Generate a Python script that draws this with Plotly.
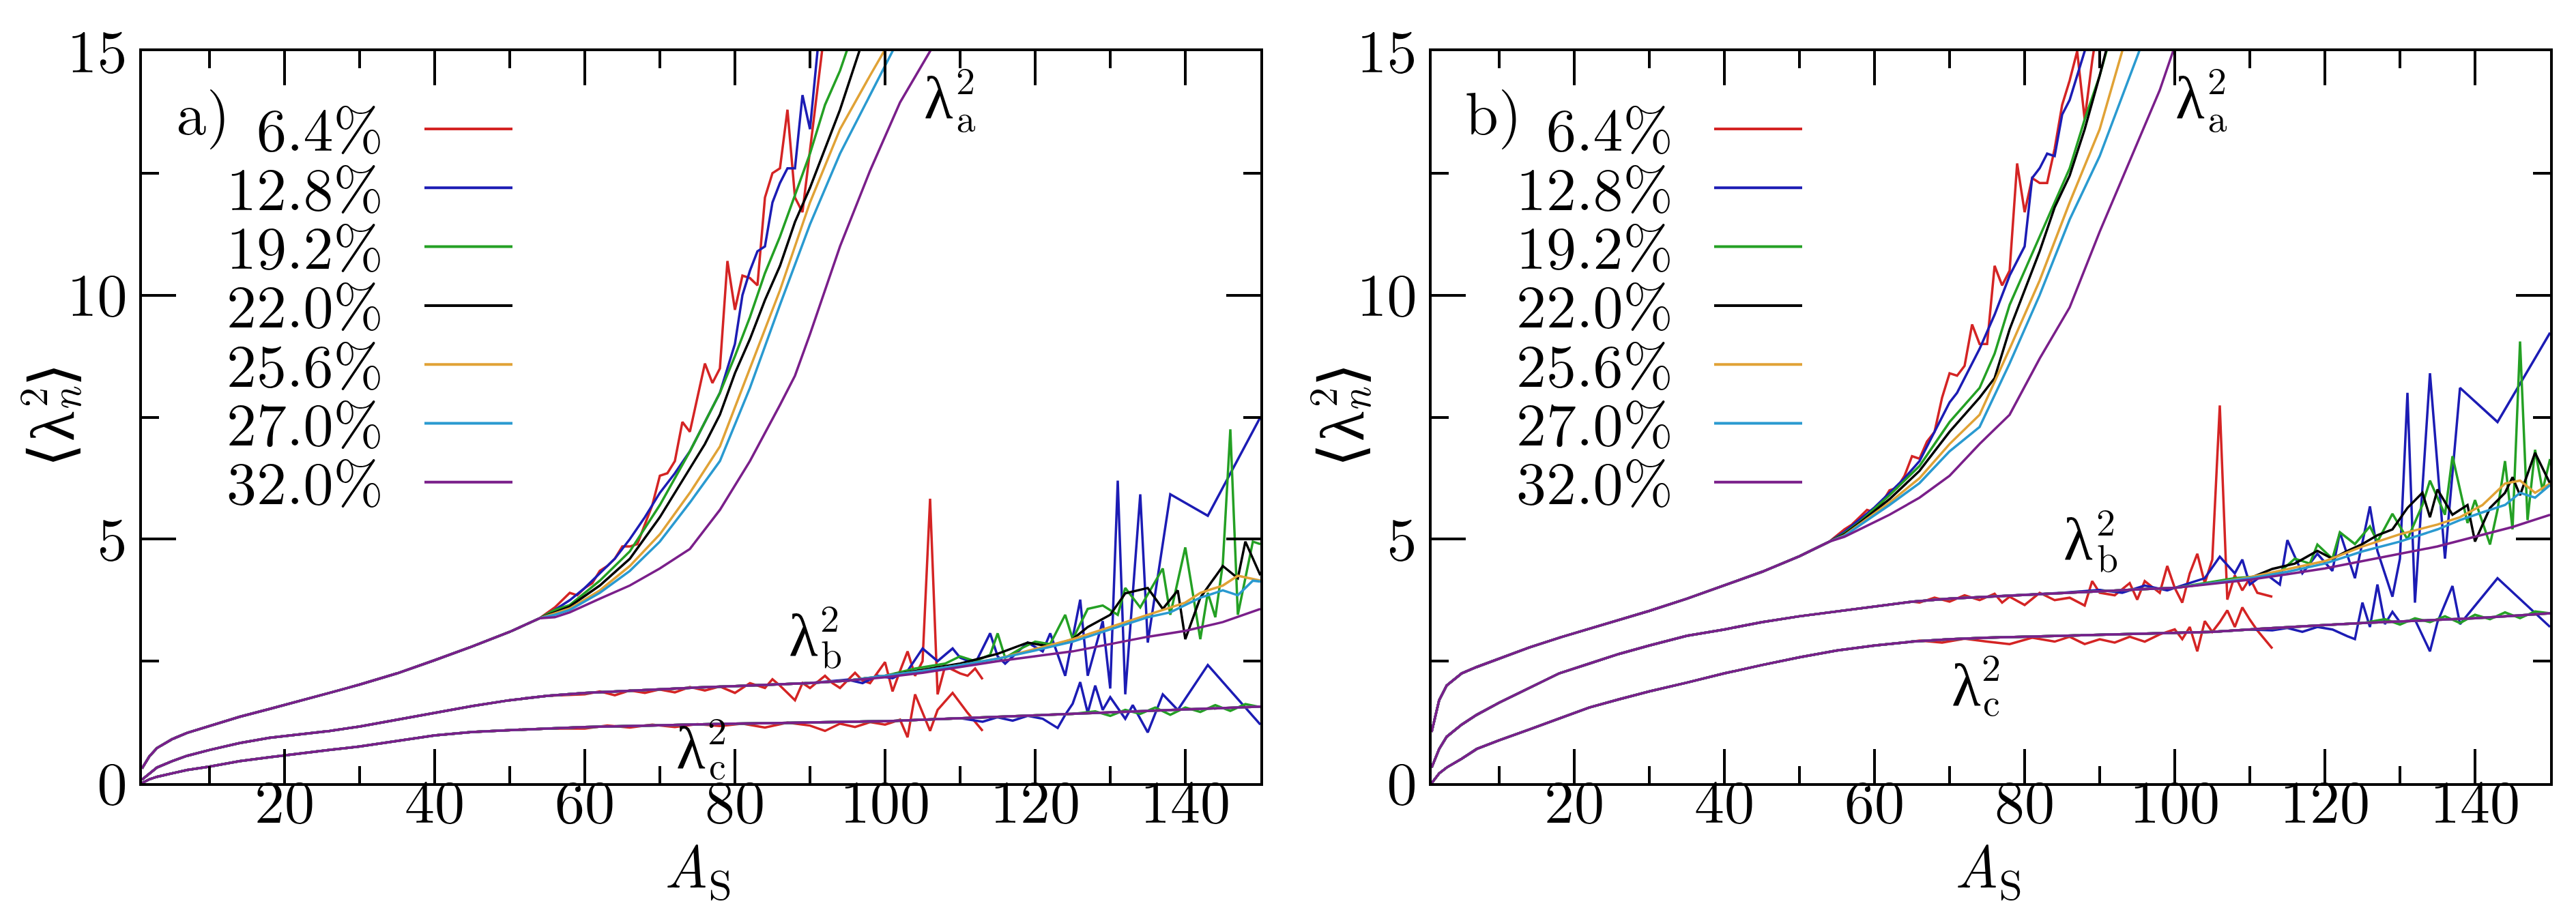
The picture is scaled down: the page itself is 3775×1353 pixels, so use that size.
import plotly.graph_objects as go

W, H = 3775, 1353
SERIF = "Latin Modern Roman"

LABELS = ["6.4%", "12.8%", "19.2%", "22.0%", "25.6%", "27.0%", "32.0%"]
COLORS = ["#d42424", "#1c1cb4", "#24a024", "#000000", "#e0a236", "#2a9ad0", "#7a1f8a"]
KEYS = ["red", "blue", "green", "black", "orange", "cyan", "purple"]

X_TICKS = [20, 40, 60, 80, 100, 120, 140]
X_MINOR = [10, 30, 50, 70, 90, 110, 130]
Y_TICKS = [0, 5, 10, 15]
Y_MINOR = [2.5, 7.5, 12.5]

# ---------------- panel a : lambda_a ----------------
A_X_BASE_LA = [1, 2, 3, 5, 7, 10, 14, 18, 22, 26, 30, 35, 40, 45, 50, 54]
A_Y_BASE_LA = [0.3, 0.55, 0.72, 0.9, 1.03, 1.17, 1.36, 1.52, 1.68, 1.85, 2.02, 2.25, 2.52, 2.8, 3.1, 3.38]
A_X_LA_RED = [56, 57, 58, 59, 60, 61, 62, 63, 64, 65, 66, 67, 68, 69, 70, 71, 72, 73, 74, 75, 76, 77, 78, 79, 80, 81, 82, 83, 84, 85, 86, 87, 88, 89, 90, 91, 92, 93]
A_Y_LA_RED = [3.6, 3.75, 3.9, 3.85, 4.0, 4.1, 4.35, 4.45, 4.6, 4.85, 4.85, 4.9, 5.3, 5.7, 6.3, 6.35, 6.6, 7.4, 7.2, 7.9, 8.6, 8.2, 8.5, 10.7, 9.7, 10.4, 10.35, 10.2, 12.0, 12.5, 12.6, 13.8, 12.0, 11.7, 13.0, 14.2, 15.5, 16.5]
A_X_LA_BLUE = [56, 58, 60, 62, 64, 66, 68, 70, 72, 74, 76, 78, 79, 80, 81, 82, 83, 84, 85, 86, 87, 88, 89, 90, 91, 92]
A_Y_LA_BLUE = [3.55, 3.75, 4.0, 4.3, 4.6, 5.0, 5.45, 5.95, 6.35, 6.8, 7.4, 8.0, 8.5, 9.0, 10.0, 10.5, 10.9, 11.0, 11.9, 12.3, 12.6, 12.6, 14.1, 13.4, 15.0, 15.8]
A_X_LA_GREEN = [56, 58, 62, 66, 70, 74, 78, 80, 82, 84, 86, 88, 90, 92, 94, 96]
A_Y_LA_GREEN = [3.55, 3.65, 4.15, 4.75, 5.7, 6.8, 8.0, 8.75, 9.55, 10.45, 11.2, 12.05, 12.9, 13.9, 14.6, 15.5]
A_X_LA_BLACK = [56, 58, 62, 66, 70, 74, 76, 78, 80, 82, 84, 86, 88, 90, 92, 94, 97]
A_Y_LA_BLACK = [3.5, 3.62, 4.05, 4.6, 5.45, 6.45, 6.95, 7.55, 8.4, 9.1, 9.9, 10.6, 11.5, 12.2, 13.0, 13.8, 15.2]
A_X_LA_ORANGE = [56, 58, 62, 66, 70, 74, 78, 82, 86, 90, 94, 98, 101]
A_Y_LA_ORANGE = [3.48, 3.58, 3.95, 4.45, 5.1, 5.95, 6.9, 8.5, 10.1, 11.9, 13.4, 14.5, 15.3]
A_X_LA_CYAN = [56, 58, 62, 66, 70, 74, 78, 82, 86, 90, 94, 98, 102]
A_Y_LA_CYAN = [3.45, 3.55, 3.9, 4.35, 4.95, 5.75, 6.6, 8.1, 9.8, 11.45, 12.9, 14.1, 15.3]
A_X_LA_PURPLE = [56, 58, 62, 66, 70, 74, 78, 82, 86, 88, 90, 94, 98, 102, 106, 109]
A_Y_LA_PURPLE = [3.4, 3.5, 3.78, 4.05, 4.4, 4.8, 5.6, 6.6, 7.75, 8.35, 9.2, 11.0, 12.55, 13.95, 15.0, 15.8]

# ---------------- panel a : lambda_b ----------------
A_X_BASE_LB = [1, 2, 3, 5, 7, 10, 14, 18, 22, 26, 30, 35, 40, 45, 50, 55, 60, 65, 70, 75, 80, 85, 90, 95, 100, 105, 110, 115, 120, 125, 130, 135, 140, 145, 150]
A_Y_BASE_LB = [0.07, 0.2, 0.32, 0.45, 0.56, 0.68, 0.82, 0.93, 1.0, 1.07, 1.16, 1.3, 1.45, 1.58, 1.7, 1.79, 1.85, 1.89, 1.93, 1.96, 1.99, 2.02, 2.05, 2.1, 2.17, 2.26, 2.38, 2.5, 2.6, 2.7, 2.85, 3.0, 3.12, 3.3, 3.57]
A_X_LB_RED = [60, 62, 64, 66, 68, 70, 72, 74, 76, 78, 80, 82, 84, 85, 86, 88, 89, 90, 92, 93, 94, 96, 97, 98, 100, 101, 102, 103, 104, 105, 106, 107, 108, 110, 111, 112, 113]
A_Y_LB_RED = [1.82, 1.88, 1.8, 1.9, 1.85, 1.92, 1.86, 1.97, 1.9, 1.98, 1.85, 2.05, 1.95, 2.13, 2.0, 1.7, 2.05, 1.95, 2.2, 2.05, 1.95, 2.26, 2.1, 2.05, 2.48, 1.88, 2.3, 2.7, 2.2, 2.5, 5.83, 1.82, 2.4, 2.25, 2.2, 2.35, 2.13]
A_X_LB_BLUE = [95, 97, 99, 101, 103, 105, 107, 109, 110, 112, 114, 115, 116, 119, 121, 122, 124, 126, 127, 129, 130, 131, 132, 134, 135, 138, 143, 150]
A_Y_LB_BLUE = [2.12, 2.05, 2.2, 2.15, 2.3, 2.76, 2.5, 2.76, 2.57, 2.45, 3.07, 2.6, 2.45, 2.88, 2.7, 3.07, 2.2, 3.76, 2.2, 3.32, 1.94, 6.2, 1.82, 5.92, 2.88, 5.92, 5.48, 7.5]
A_X_LB_GREEN = [100, 104, 108, 110, 112, 114, 115, 116, 118, 120, 122, 124, 125, 127, 129, 131, 132, 134, 137, 138, 140, 142, 143, 144, 145, 146, 147, 149, 150]
A_Y_LB_GREEN = [2.2, 2.35, 2.45, 2.6, 2.5, 2.63, 3.07, 2.57, 2.75, 2.9, 2.85, 3.45, 2.95, 3.57, 3.64, 3.45, 4.0, 3.6, 4.4, 3.45, 4.83, 2.95, 3.9, 3.4, 4.5, 7.25, 3.45, 4.95, 4.9]
A_X_LB_BLACK = [100, 105, 110, 115, 119, 122, 125, 127, 130, 132, 135, 137, 139, 140, 142, 145, 147, 148, 150]
A_Y_LB_BLACK = [2.2, 2.32, 2.45, 2.65, 2.88, 2.8, 2.95, 3.2, 3.45, 3.89, 4.0, 3.57, 3.95, 2.95, 3.8, 4.45, 4.2, 4.95, 4.26]
A_X_LB_ORANGE = [100, 105, 110, 115, 120, 125, 130, 135, 138, 140, 142, 145, 147, 150]
A_Y_LB_ORANGE = [2.2, 2.3, 2.42, 2.55, 2.75, 2.95, 3.2, 3.45, 3.6, 3.7, 3.9, 4.05, 4.25, 4.15]
A_X_LB_CYAN = [100, 105, 110, 115, 120, 125, 130, 135, 138, 140, 142, 145, 147, 149, 150]
A_Y_LB_CYAN = [2.2, 2.3, 2.42, 2.55, 2.72, 2.9, 3.15, 3.4, 3.5, 3.65, 3.8, 3.95, 3.85, 4.15, 4.13]

# ---------------- panel a : lambda_c ----------------
A_X_BASE_LC = [1, 2, 3, 5, 7, 10, 14, 18, 22, 26, 30, 35, 40, 45, 50, 55, 60, 65, 70, 75, 80, 85, 90, 95, 100, 105, 110, 115, 120, 125, 130, 135, 140, 145, 150]
A_Y_BASE_LC = [0.0, 0.08, 0.13, 0.2, 0.27, 0.34, 0.45, 0.53, 0.61, 0.68, 0.75, 0.87, 0.98, 1.05, 1.09, 1.12, 1.15, 1.17, 1.19, 1.2, 1.22, 1.23, 1.24, 1.25, 1.27, 1.3, 1.33, 1.36, 1.39, 1.42, 1.45, 1.48, 1.51, 1.54, 1.57]
A_X_LC_RED = [60, 63, 66, 69, 72, 75, 78, 81, 84, 87, 90, 92, 94, 96, 98, 100, 102, 103, 104, 106, 107, 109, 111, 113]
A_Y_LC_RED = [1.12, 1.18, 1.14, 1.2, 1.15, 1.21, 1.17, 1.22, 1.14, 1.24, 1.18, 1.07, 1.22, 1.15, 1.25, 1.2, 1.3, 0.94, 1.82, 1.07, 1.5, 1.85, 1.44, 1.07]
A_X_LC_BLUE = [113, 115, 117, 119, 121, 123, 124, 125, 126, 127, 128, 129, 130, 132, 133, 135, 137, 139, 143, 150]
A_Y_LC_BLUE = [1.26, 1.35, 1.28, 1.38, 1.32, 1.13, 1.4, 1.63, 2.07, 1.44, 2.0, 1.5, 1.76, 1.32, 1.6, 1.04, 1.82, 1.5, 2.42, 1.2]
A_X_LC_GREEN = [125, 128, 130, 132, 134, 136, 138, 140, 142, 144, 146, 148, 150]
A_Y_LC_GREEN = [1.42, 1.47, 1.38, 1.5, 1.42, 1.55, 1.4, 1.55, 1.46, 1.6, 1.48, 1.62, 1.56]

# ---------------- panel b : lambda_a ----------------
B_X_BASE_LA = [1, 2, 3, 5, 7, 10, 14, 18, 22, 26, 30, 35, 40, 45, 50, 54]
B_Y_BASE_LA = [1.05, 1.7, 2.0, 2.25, 2.38, 2.55, 2.78, 2.98, 3.16, 3.35, 3.53, 3.78, 4.05, 4.33, 4.65, 4.95]
B_X_LA_RED = [56, 57, 58, 59, 60, 61, 62, 63, 64, 65, 66, 67, 68, 69, 70, 71, 72, 73, 74, 75, 76, 77, 78, 79, 80, 81, 82, 83, 84, 85, 86, 87, 88, 89, 90]
B_Y_LA_RED = [5.2, 5.3, 5.45, 5.6, 5.55, 5.75, 6.0, 6.05, 6.3, 6.7, 6.65, 7.0, 7.2, 7.9, 8.4, 8.35, 8.55, 9.4, 9.0, 9.0, 10.6, 10.2, 10.5, 12.7, 11.7, 12.4, 12.3, 12.3, 13.0, 13.9, 14.4, 15.0, 13.6, 14.8, 15.8]
B_X_LA_BLUE = [56, 58, 60, 62, 64, 66, 68, 70, 71, 72, 74, 76, 78, 80, 81, 82, 83, 84, 85, 86, 87, 88, 89]
B_Y_LA_BLUE = [5.15, 5.4, 5.65, 5.95, 6.25, 6.6, 7.2, 7.8, 8.0, 8.3, 8.9, 9.6, 10.4, 11.0, 12.4, 12.6, 12.9, 12.85, 13.7, 14.0, 14.5, 15.0, 15.6]
B_X_LA_GREEN = [56, 58, 62, 66, 70, 74, 76, 78, 80, 82, 84, 86, 88, 90, 92]
B_Y_LA_GREEN = [5.12, 5.35, 5.9, 6.5, 7.4, 8.1, 8.8, 9.8, 10.5, 11.2, 11.9, 12.6, 13.6, 14.5, 15.6]
B_X_LA_BLACK = [56, 58, 62, 66, 70, 74, 76, 78, 80, 82, 84, 86, 88, 90, 92]
B_Y_LA_BLACK = [5.1, 5.33, 5.82, 6.4, 7.2, 7.9, 8.3, 9.3, 10.1, 10.9, 11.8, 12.45, 13.4, 14.5, 15.7]
B_X_LA_ORANGE = [56, 58, 62, 66, 70, 74, 78, 82, 86, 90, 93, 95]
B_Y_LA_ORANGE = [5.08, 5.3, 5.75, 6.25, 6.95, 7.55, 8.9, 10.3, 11.9, 13.4, 15.0, 15.8]
B_X_LA_CYAN = [56, 58, 62, 66, 70, 74, 78, 82, 86, 90, 94, 96]
B_Y_LA_CYAN = [5.07, 5.28, 5.7, 6.15, 6.8, 7.3, 8.6, 10.0, 11.55, 12.85, 14.5, 15.3]
B_X_LA_PURPLE = [56, 58, 62, 66, 70, 74, 78, 82, 86, 90, 94, 98, 100, 102]
B_Y_LA_PURPLE = [5.05, 5.2, 5.5, 5.85, 6.3, 6.95, 7.55, 8.7, 9.75, 11.3, 12.75, 14.2, 15.1, 15.7]

# ---------------- panel b : lambda_b ----------------
B_X_BASE_LB = [1, 2, 3, 5, 7, 10, 14, 18, 22, 26, 30, 35, 40, 45, 50, 55, 60, 65, 70, 75, 80, 85, 90, 95, 100, 105, 110, 115, 120, 125, 130, 135, 140, 145, 150]
B_Y_BASE_LB = [0.32, 0.7, 0.95, 1.2, 1.4, 1.65, 1.95, 2.25, 2.45, 2.65, 2.82, 3.02, 3.15, 3.3, 3.42, 3.52, 3.63, 3.72, 3.78, 3.82, 3.86, 3.9, 3.94, 3.97, 4.0, 4.08, 4.17, 4.28, 4.4, 4.55, 4.7, 4.85, 5.05, 5.25, 5.5]
B_X_LB_RED = [66, 68, 70, 72, 74, 76, 77, 78, 80, 82, 84, 86, 88, 89, 90, 92, 94, 95, 96, 98, 99, 100, 101, 102, 103, 104, 105, 106, 107, 108, 109, 110, 111, 113]
B_Y_LB_RED = [3.7, 3.8, 3.72, 3.85, 3.75, 3.88, 3.7, 3.82, 3.65, 3.9, 3.75, 3.8, 3.64, 4.14, 3.9, 3.85, 4.1, 3.76, 4.14, 3.9, 4.45, 4.0, 3.7, 4.3, 4.7, 4.1, 4.58, 7.74, 3.76, 4.26, 3.95, 4.2, 3.9, 3.82]
B_X_LB_BLUE = [90, 93, 96, 99, 102, 104, 106, 108, 109, 110, 112, 114, 115, 117, 119, 121, 122, 124, 126, 127, 129, 130, 131, 132, 134, 136, 138, 143, 150]
B_Y_LB_BLUE = [3.96, 3.9, 4.05, 3.95, 4.1, 4.2, 4.64, 4.3, 4.58, 4.07, 4.3, 4.07, 4.98, 4.3, 4.7, 4.35, 5.14, 4.2, 5.67, 4.76, 3.82, 4.6, 8.0, 3.7, 8.4, 4.6, 8.1, 7.4, 9.23]
B_X_LB_GREEN = [100, 104, 108, 112, 114, 116, 118, 119, 121, 122, 124, 126, 127, 129, 131, 133, 134, 136, 137, 139, 140, 142, 143, 144, 145, 146, 147, 148, 149, 150]
B_Y_LB_GREEN = [4.0, 4.1, 4.2, 4.25, 4.33, 4.6, 4.5, 4.89, 4.6, 5.14, 4.9, 5.26, 4.95, 5.52, 5.0, 5.7, 6.2, 5.5, 6.7, 5.33, 5.8, 4.89, 5.6, 6.6, 5.2, 9.05, 5.39, 6.83, 6.0, 6.64]
B_X_LB_BLACK = [100, 105, 110, 113, 116, 119, 121, 123, 125, 127, 129, 131, 133, 134, 135, 137, 139, 140, 142, 144, 145, 146, 148, 150]
B_Y_LB_BLACK = [4.0, 4.1, 4.2, 4.39, 4.5, 4.76, 4.6, 4.76, 4.9, 5.08, 5.2, 5.64, 5.95, 5.45, 6.02, 5.5, 5.7, 4.95, 5.64, 5.95, 6.27, 5.9, 6.77, 6.14]
B_X_LB_ORANGE = [100, 105, 110, 115, 120, 125, 130, 135, 138, 141, 144, 146, 148, 150]
B_Y_LB_ORANGE = [4.0, 4.1, 4.22, 4.38, 4.55, 4.85, 5.1, 5.3, 5.45, 5.7, 6.14, 6.2, 5.95, 6.14]
B_X_LB_CYAN = [100, 105, 110, 115, 120, 125, 130, 135, 138, 141, 144, 146, 148, 150]
B_Y_LB_CYAN = [4.0, 4.1, 4.2, 4.33, 4.5, 4.75, 4.95, 5.2, 5.39, 5.55, 5.7, 5.95, 5.85, 6.11]

# ---------------- panel b : lambda_c ----------------
B_X_BASE_LC = [1, 2, 3, 5, 7, 10, 14, 18, 22, 26, 30, 35, 40, 45, 50, 55, 60, 65, 70, 75, 80, 85, 90, 95, 100, 105, 110, 115, 120, 125, 130, 135, 140, 145, 150]
B_Y_BASE_LC = [0.0, 0.2, 0.32, 0.5, 0.7, 0.88, 1.1, 1.33, 1.55, 1.72, 1.88, 2.06, 2.25, 2.42, 2.58, 2.72, 2.82, 2.9, 2.95, 2.98, 3.0, 3.02, 3.03, 3.05, 3.07, 3.1, 3.15, 3.2, 3.24, 3.28, 3.31, 3.34, 3.38, 3.43, 3.48]
B_X_LC_RED = [66, 69, 72, 75, 78, 81, 84, 86, 88, 90, 92, 94, 96, 98, 100, 101, 102, 103, 104, 105, 106, 107, 108, 109, 110, 111, 113]
B_Y_LC_RED = [2.92, 2.88, 2.96, 2.9, 2.85, 2.98, 2.9, 3.0, 2.85, 2.95, 2.88, 3.0, 2.9, 3.05, 3.15, 2.95, 3.2, 2.7, 3.32, 3.1, 3.3, 3.54, 3.2, 3.6, 3.35, 3.13, 2.76]
B_X_LC_BLUE = [113, 115, 117, 119, 121, 123, 124, 125, 126, 127, 128, 129, 130, 132, 134, 135, 137, 138, 143, 150]
B_Y_LC_BLUE = [3.13, 3.18, 3.1, 3.2, 3.15, 3.01, 2.95, 3.7, 3.2, 4.07, 3.26, 3.51, 3.3, 3.35, 2.7, 3.3, 4.04, 3.26, 4.2, 3.2]
B_X_LC_GREEN = [125, 128, 130, 132, 134, 136, 138, 140, 142, 144, 146, 148, 150]
B_Y_LC_GREEN = [3.28, 3.36, 3.25, 3.38, 3.3, 3.42, 3.28, 3.45, 3.36, 3.5, 3.38, 3.52, 3.48]

G = globals()


def series_xy(base_x, base_y, tail_x=None, tail_y=None):
    if not tail_x:
        return list(base_x), list(base_y)
    x0 = tail_x[0]
    xs = [x for x in base_x if x < x0]
    ys = [y for x, y in zip(base_x, base_y) if x < x0]
    return xs + list(tail_x), ys + list(tail_y)


fig = go.Figure()
for panel, xa, ya in (("A", "x", "y"), ("B", "x2", "y2")):
    for comp in ("LA", "LB", "LC"):
        bx = G[f"{panel}_X_BASE_{comp}"]
        by = G[f"{panel}_Y_BASE_{comp}"]
        for key, col, lab in zip(KEYS, COLORS, LABELS):
            tx = G.get(f"{panel}_X_{comp}_{key.upper()}")
            ty = G.get(f"{panel}_Y_{comp}_{key.upper()}")
            xs, ys = series_xy(bx, by, tx, ty)
            fig.add_trace(go.Scatter(x=xs, y=ys, mode="lines", xaxis=xa, yaxis=ya,
                                     line=dict(color=col, width=3.5), name=lab,
                                     showlegend=False, hoverinfo="skip"))

PA_L, PA_R, PB_L, PB_R = 208, 1847, 2098, 3737
P_T, P_B = 75, 1148


def axis_common(tickvals, minor_vals, rng):
    return dict(range=rng, showgrid=False, zeroline=False, showline=True,
                automargin=False,
                linecolor="black", linewidth=4, mirror="allticks",
                ticks="inside", ticklen=50, tickwidth=4, tickcolor="black",
                tickvals=tickvals, ticktext=[str(v) for v in tickvals],
                tickfont=dict(family=SERIF, size=88, color="black"),
                minor=dict(tickvals=minor_vals, ticks="inside", ticklen=25,
                           tickwidth=4, tickcolor="black", showgrid=False))


xa1 = axis_common(X_TICKS, X_MINOR, [1, 150])
xa1.update(domain=[PA_L / W, PA_R / W], anchor="y", ticklabelstandoff=-52)
xa2 = axis_common(X_TICKS, X_MINOR, [1, 150])
xa2.update(domain=[PB_L / W, PB_R / W], anchor="y2", ticklabelstandoff=-52)
ya1 = axis_common(Y_TICKS, Y_MINOR, [0, 15])
ya1.update(domain=[1 - P_B / H, 1 - P_T / H], anchor="x")
ya2 = axis_common(Y_TICKS, Y_MINOR, [0, 15])
ya2.update(domain=[1 - P_B / H, 1 - P_T / H], anchor="x2")


def ann(text, xpx, ypx, size, xanchor="center", yanchor="middle", angle=0, family=SERIF):
    return dict(text=text, x=xpx / W, y=1 - ypx / H, xref="paper", yref="paper",
                showarrow=False, xanchor=xanchor, yanchor=yanchor, textangle=angle,
                font=dict(family=family, size=size, color="black"))


annotations = []
shapes = []
for left, tag in ((PA_L, "a)"), (PB_L, "b)")):
    annotations.append(ann(tag, left + 90, 160, 88))
    for i, (lab, col) in enumerate(zip(LABELS, COLORS)):
        yl = 189 + 86.3 * i
        annotations.append(ann(lab, left + 356, yl - 4, 88, xanchor="right"))
        shapes.append(dict(type="line", xref="paper", yref="paper",
                           x0=(left + 414) / W, x1=(left + 543) / W,
                           y0=1 - yl / H, y1=1 - yl / H,
                           line=dict(color=col, width=4)))
    # x axis title
    annotations.append(ann("<i>A</i><sub>S</sub>", (left + (PA_R - PA_L) / 2) - 4, 1200, 88,
                           yanchor="top"))
    # y axis title (rotated pieces)
    off = left - PA_L
    annotations.append(ann("⟨", 75 + off, 668, 90, angle=-90, family="DejaVu Serif"))
    annotations.append(ann("λ", 70 + off, 625, 90, angle=-90))
    annotations.append(ann("2", 45 + off, 583, 58, angle=-90))
    annotations.append(ann("<i>n</i>", 92 + off, 585, 62, angle=-90))
    annotations.append(ann("⟩", 75 + off, 550, 90, angle=-90, family="DejaVu Serif"))

# lambda labels
LAMBDA_LABELS = [
    ("a", (1375, 137), (1415, 115), (1416, 170)),
    ("b", (1177, 925), (1216, 903), (1218, 955)),
    ("c", (1012, 1090), (1051, 1067), (1051, 1118)),
    ("a", (3209, 137), (3249, 115), (3250, 170)),
    ("b", (3045, 784), (3086, 761), (3088, 814)),
    ("c", (2881, 998), (2918, 974), (2918, 1025)),
]
for sub, lp, sp, bp in LAMBDA_LABELS:
    annotations.append(ann("λ", lp[0], lp[1], 88))
    annotations.append(ann("2", sp[0], sp[1], 56))
    annotations.append(ann(sub, bp[0], bp[1], 56))

fig.update_layout(width=W, height=H, margin=dict(l=0, r=0, t=0, b=0, autoexpand=False),
                  paper_bgcolor="white", plot_bgcolor="white",
                  xaxis=xa1, xaxis2=xa2, yaxis=ya1, yaxis2=ya2,
                  annotations=annotations, shapes=shapes, showlegend=False)

fig.write_html("out.html")
